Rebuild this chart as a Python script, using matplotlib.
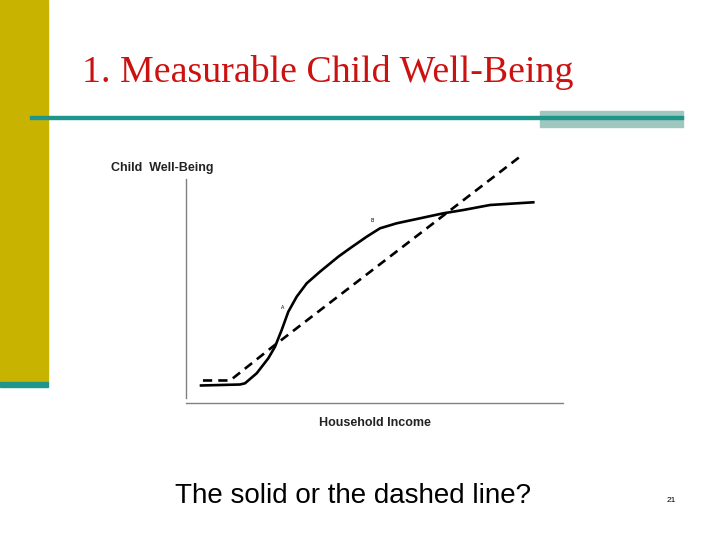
import matplotlib
matplotlib.use("Agg")
import matplotlib.pyplot as plt
from matplotlib.patches import Rectangle

# Data (income 0-100, well-being 0-100)
solid_x = [3.98, 14.32, 15.65, 18.75, 21.83, 23.61, 25.38, 27.14, 29.36,
           32.02, 35.54, 40.40, 43.50, 47.93, 51.46, 55.89, 62.07, 68.25,
           73.55, 80.64, 92.12]
solid_y = [6.92, 7.31, 7.79, 11.74, 17.67, 22.25, 28.85, 36.09, 42.02,
           47.31, 51.90, 57.83, 61.15, 65.73, 69.05, 71.03, 73.00, 74.98,
           76.28, 78.26, 79.33]
dashed_x = [4.5, 11.7, 23.2, 88.8]
dashed_y = [8.9, 8.9, 22.5, 97.6]

point_labels = ["A", "B"]
point_x = [25.6, 49.3]
point_y = [37.7, 72.3]

title = "1. Measurable Child Well-Being"
question = "The solid or the dashed line?"
page_no = "21"

W, H = 720, 540
fig = plt.figure(figsize=(7.2, 5.4), dpi=100)
fig.patch.set_facecolor("white")


def fx(px):
    return px / W


def fy(py):
    return 1 - py / H


# slide decoration
fig.patches.append(Rectangle((0, fy(382)), fx(48), 382 / H,
                             transform=fig.transFigure, color="#c8b400", zorder=0))
fig.patches.append(Rectangle((0, fy(387)), fx(48), 5 / H,
                             transform=fig.transFigure, color="#1f968b", zorder=1))
fig.patches.append(Rectangle((fx(540), fy(127)), fx(143), 16 / H,
                             transform=fig.transFigure, color="#9fc6bf", zorder=1))
fig.patches.append(Rectangle((fx(30), fy(119)), fx(653), 3 / H,
                             transform=fig.transFigure, color="#1f968b", zorder=2))

fig.text(fx(82), fy(82), title, family="Liberation Serif", fontsize=27.3,
         color="#cc1111", ha="left", va="baseline")

# chart
ax = fig.add_axes([fx(186), fy(403), fx(377), 253 / H])
ax.set_xlim(0, 100)
ax.set_ylim(0, 100)
ax.plot(solid_x, solid_y, color="black", lw=1.9, solid_joinstyle="round")
ax.plot(dashed_x, dashed_y, color="black", lw=1.9, linestyle=(0, (3.5, 2.3)))
for lab, x, y in zip(point_labels, point_x, point_y):
    ax.text(x, y, lab, fontsize=3.5, ha="center", va="center")

for s in ["top", "right"]:
    ax.spines[s].set_visible(False)
ax.spines["left"].set_bounds(2, 88.5)
for s in ["left", "bottom"]:
    ax.spines[s].set_color("#808080")
    ax.spines[s].set_linewidth(1)
ax.set_xticks([])
ax.set_yticks([])

fig.text(fx(111), fy(168), "Child  Well-Being", family="Liberation Sans",
         fontsize=9, fontweight="bold", color="#222222", ha="left", va="center")
fig.text(fx(375), fy(423), "Household Income", family="Liberation Sans",
         fontsize=9, fontweight="bold", color="#222222", ha="center", va="center")

fig.text(fx(175), fy(503), question, family="Liberation Sans", fontsize=20,
         color="black", ha="left", va="baseline")
fig.text(fx(671), fy(500), page_no, family="Liberation Sans", fontsize=6,
         color="black", ha="center", va="center")

fig.savefig("out.png", dpi=100)
